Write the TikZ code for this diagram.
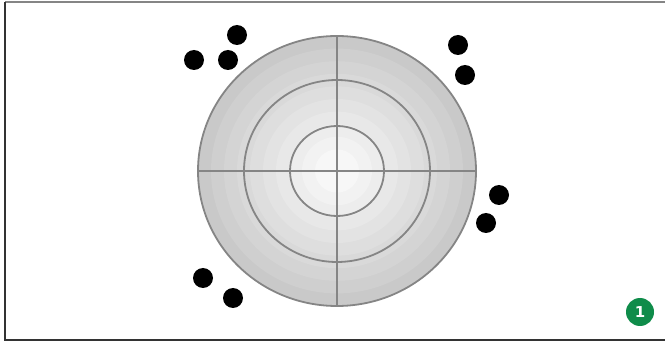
\documentclass[tikz,border=0pt]{standalone}
\usepackage{fontspec}
\setmainfont{DejaVu Sans}
\usetikzlibrary{calc}
\definecolor{markgreen}{HTML}{0F8C4A}
\definecolor{ringgray}{HTML}{858585}

\begin{document}
\begin{tikzpicture}[
  x=1pt, y=-1pt,
  ring/.style={draw=ringgray, line width=1.8pt},
  dot/.style={circle, fill=black, minimum size=20pt, inner sep=0pt},
  badge/.style={circle, fill=markgreen, text=white, font=\bfseries\fontsize{15}{15}\selectfont, minimum size=28pt, inner sep=0pt}
]
\useasboundingbox (0,0) rectangle (665,342);

% Frame
\draw[ringgray, line width=1.4pt] (5,2) -- (665,2);
\draw[black!80, line width=1.4pt] (5,2) -- (5,340) -- (665,340);

% Target with stepped shading
\coordinate (c) at (337,171);
\foreach \k [evaluate=\k as \rx using 139-13*\k,
             evaluate=\k as \ry using 135-12.6*\k,
             evaluate=\k as \g using 21-2*\k] in {0,...,9}
  \fill[black!\g] (c) ellipse [x radius=\rx, y radius=\ry];

\draw[ring] (c) ellipse [x radius=139, y radius=135];
\draw[ring] (c) ellipse [x radius=93, y radius=91];
\draw[ring] (c) ellipse [x radius=47, y radius=45];
\draw[ring] ($(c)+(-139,0)$) -- ($(c)+(139,0)$);
\draw[ring] ($(c)+(0,-135)$) -- ($(c)+(0,135)$);

% Shots
\node[dot] (s1) at (237,35) {};
\node[dot] (s2) at (194,60) {};
\node[dot] (s3) at (228,60) {};
\node[dot] (s4) at (458,45) {};
\node[dot] (s5) at (465,75) {};
\node[dot] (s6) at (499,195) {};
\node[dot] (s7) at (486,223) {};
\node[dot] (s8) at (203,278) {};
\node[dot] (s9) at (233,298) {};

% Marker
\node[badge] (mark) at (640,312) {1};

\end{tikzpicture}
\end{document}
